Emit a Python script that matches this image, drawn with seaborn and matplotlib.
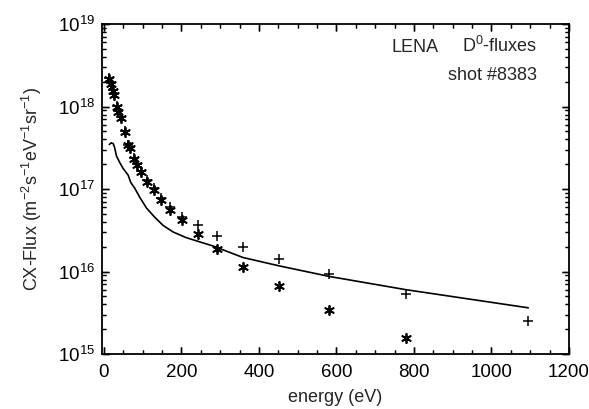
import numpy as np
import pandas as pd
import seaborn as sns
import matplotlib
matplotlib.use("Agg")
import matplotlib.pyplot as plt
from matplotlib.ticker import LogLocator, MultipleLocator, NullFormatter
from matplotlib.transforms import blended_transform_factory

# (energy in eV, log10 of flux)
ast_energy=[13.6,17.3,22.4,25.8,32.7,36.8,43,54,62.6,67,78,86.8,97,111.5,128.8,148.6,171.8,202.7,242.9,293,359,451,582,779]
ast_logflux=[18.34,18.28,18.19,18.14,18.00,17.94,17.86,17.69,17.53,17.50,17.37,17.29,17.21,17.09,16.99,16.87,16.75,16.63,16.45,16.27,16.05,15.83,15.53,15.19]

plus_energy=[13.6,17.3,22.4,25.8,32.7,36.8,43,54,62.6,67,78,86.8,97,111.5,128.8,148.6,171.8,202.7,242.9,293,359,451,582,779,1095]
plus_logflux=[18.35,18.29,18.20,18.15,18.01,17.95,17.87,17.70,17.54,17.51,17.38,17.30,17.22,17.11,17.01,16.89,16.78,16.66,16.56,16.43,16.30,16.15,15.97,15.73,15.40]

line_energy=[14,19,24.5,28,32.7,41.2,49.7,62.6,69.5,79.8,92.7,110,131,152.7,178.5,213,247,281.5,359,451,582,779,1095]
line_logflux=[17.54,17.56,17.55,17.50,17.40,17.32,17.25,17.17,17.08,17.01,16.90,16.77,16.66,16.56,16.48,16.41,16.36,16.31,16.17,16.07,15.94,15.78,15.56]

sns.set_style("ticks")
plt.rcParams.update({
    'font.family':['Liberation Sans','DejaVu Sans'],
    'mathtext.fontset':'custom',
    'mathtext.rm':'Liberation Sans',
    'mathtext.it':'Liberation Sans',
    'mathtext.default':'regular',
    'axes.edgecolor':'black','axes.linewidth':1.3,
})

df_ast=pd.DataFrame({"energy":ast_energy,"flux":10**np.array(ast_logflux)})
df_plus=pd.DataFrame({"energy":plus_energy,"flux":10**np.array(plus_logflux)})
df_line=pd.DataFrame({"energy":line_energy,"flux":10**np.array(line_logflux)})

fig=plt.figure(figsize=(5.89,4.09),dpi=100)
ax=fig.add_axes([0.173,0.1345,0.793,0.8065])

sns.lineplot(data=df_line,x="energy",y="flux",ax=ax,color="black",linewidth=1.2,sort=False)
sns.scatterplot(data=df_plus,x="energy",y="flux",ax=ax,marker="+",s=55,color="black",linewidth=1.1)
sns.scatterplot(data=df_ast,x="energy",y="flux",ax=ax,marker=(6,2,0),s=45,color="black",linewidth=1.3)

ax.set_yscale("log")
ax.set_xlim(-5,1200)
ax.set_ylim(1e15,1e19)
ax.xaxis.set_major_locator(MultipleLocator(200))
ax.xaxis.set_minor_locator(MultipleLocator(50))
ax.yaxis.set_major_locator(LogLocator(base=10,numticks=10))
ax.yaxis.set_minor_locator(LogLocator(base=10,subs=np.arange(2,10),numticks=20))
ax.yaxis.set_minor_formatter(NullFormatter())
ax.tick_params(which="both",direction="in",top=True,right=True,color="black")
ax.tick_params(which="major",length=5,width=1.0)
ax.tick_params(which="minor",length=3,width=0.9)
ax.tick_params(axis="both",labelsize=13.5,labelcolor="black")
ax.tick_params(axis="x",pad=7)
ax.tick_params(axis="y",pad=5)

# inward tick marks on all four sides, taken from the axis locators
tx=blended_transform_factory(ax.transData,ax.transAxes)
ty=blended_transform_factory(ax.transAxes,ax.transData)
xmaj=[v for v in ax.xaxis.get_majorticklocs() if -5<=v<=1200]
xmin=[v for v in ax.xaxis.get_minorticklocs() if -5<=v<=1200]
ymaj=[v for v in ax.yaxis.get_majorticklocs() if 1e15<=v<=1e19]
ymin=[v for v in ax.yaxis.get_minorticklocs() if 1e15<=v<=1e19]
for locs,ln,lw in [(xmaj,0.021,1.0),(xmin,0.012,0.9)]:
    ax.vlines(locs,0,ln,transform=tx,color="black",linewidth=lw,clip_on=False)
    ax.vlines(locs,1-ln,1,transform=tx,color="black",linewidth=lw,clip_on=False)
for locs,ln,lw in [(ymaj,0.015,1.0),(ymin,0.0086,0.9)]:
    ax.hlines(locs,0,ln,transform=ty,color="black",linewidth=lw,clip_on=False)
    ax.hlines(locs,1-ln,1,transform=ty,color="black",linewidth=lw,clip_on=False)
ax.set_xlim(-5,1200)
ax.set_ylim(1e15,1e19)

ax.set_xlabel("energy (eV)",fontsize=13,labelpad=6)
ax.set_ylabel(r"CX-Flux (m$^{-2}$s$^{-1}$eV$^{-1}$sr$^{-1}$)",fontsize=13,labelpad=10)

ax.text(0.62,0.915,"LENA",transform=ax.transAxes,fontsize=13)
ax.text(0.77,0.915,r"D$^{0}$-fluxes",transform=ax.transAxes,fontsize=13)
ax.text(0.742,0.83,"shot #8383",transform=ax.transAxes,fontsize=13)

fig.savefig("out.png",dpi=100)
